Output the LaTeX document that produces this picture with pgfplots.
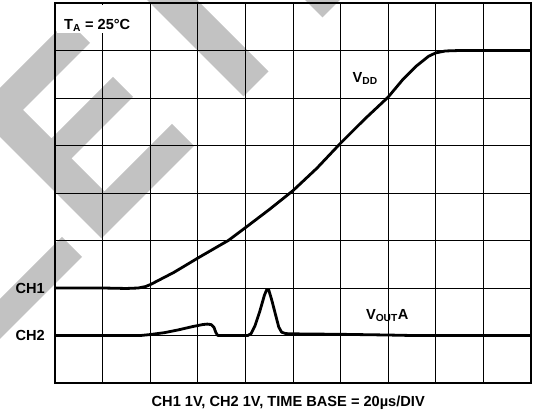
\documentclass[border=0pt]{standalone}
\usepackage{fontspec}
\setmainfont{Liberation Sans}
\usepackage{pgfplots}
\pgfplotsset{compat=1.18}
\definecolor{wm}{RGB}{194,194,194}
\newcommand{\lblfont}{\bfseries\fontsize{14.6}{17}\selectfont}
\pgfplotstableread{
x y
0 2.0
1.0 2.0
1.5 1.99
1.75 2.0
1.9 2.03
2.0 2.07
2.5 2.33
3.0 2.63
3.5 2.92
3.64 3.0
4.0 3.27
4.5 3.65
5.0 4.05
5.5 4.52
6.0 5.05
6.5 5.55
7.0 6.02
7.3 6.38
7.6 6.68
7.85 6.88
8.0 6.95
8.2 6.99
8.5 7.0
10 7.0
}\vdd
\pgfplotstableread{
x y
0 1.0
1.8 1.0
2.0 1.02
2.3 1.06
2.6 1.12
2.9 1.19
3.1 1.23
3.2 1.24
3.28 1.23
3.34 1.17
3.38 1.06
3.42 1.0
4.05 1.0
4.12 1.04
4.2 1.2
4.3 1.5
4.4 1.85
4.45 1.97
4.49 1.96
4.55 1.76
4.63 1.45
4.7 1.18
4.76 1.07
4.85 1.04
5.0 1.035
6.0 1.025
7.0 1.01
7.5 1.0
10 1.0
}\vout
\begin{document}
\begin{tikzpicture}
\begin{scope}[x=1pt,y=-1pt,yshift=417pt]
\fill[wm] (67.5,20.5)--(90,43)--(23,110)--(51.5,138.5)--(113,77)--(133,97)--(71.5,158.5)--(104.5,191.5)--(172,124)--(194,146)--(101.5,238.5)--(0,137)--(0,88)--cycle;
\fill[wm] (62,237)--(82,257)--(0,339)--(0,299)--cycle;
\fill[wm] (147,0)--(197,0)--(268.5,71.5)--(243.5,96.5)--cycle;
\fill[wm] (305,0)--(340,0)--(322.5,17.5)--cycle;
\end{scope}
\begin{axis}[at={(55pt,34pt)},anchor=south west,
  width=476pt,height=380pt,scale only axis,
  xmin=0,xmax=10,ymin=0,ymax=8,
  xtick={0,...,10},ytick={0,...,8},
  xticklabels={},yticklabels={},
  major tick length=0pt,
  grid=major,
  major grid style={black,line width=0.9pt},
  axis line style={black,line width=1.3pt},
  clip=false]
\addplot[black,line width=2.8pt,line join=round] table[x=x,y=y]{\vdd};
\addplot[black,line width=2.8pt,line join=round] table[x=x,y=y]{\vout};
\fill[white] (axis cs:0.04,7.36) rectangle (axis cs:1.75,7.96);
\node[anchor=base west,inner sep=0pt,font=\lblfont] at (axis cs:0.19,7.45) {T\textsubscript{A} = 25°C};
\node[anchor=base west,inner sep=0pt,font=\lblfont] at (axis cs:6.25,6.32) {V\textsubscript{DD}};
\node[anchor=base west,inner sep=0pt,font=\lblfont] at (axis cs:6.53,1.33) {V\textsubscript{OUT}A};
\node[anchor=east,inner sep=0pt,font=\lblfont] at (axis cs:-0.21,2.0) {CH1};
\node[anchor=east,inner sep=0pt,font=\lblfont] at (axis cs:-0.21,1.0) {CH2};
\node[anchor=center,inner sep=0pt,font=\lblfont] at (axis cs:4.9,-0.42) {CH1 1V, CH2 1V, TIME BASE = 20µs/DIV};
\end{axis}
\pgfresetboundingbox
\path[use as bounding box] (0,0) rectangle (535pt,417pt);
\end{tikzpicture}
\end{document}
